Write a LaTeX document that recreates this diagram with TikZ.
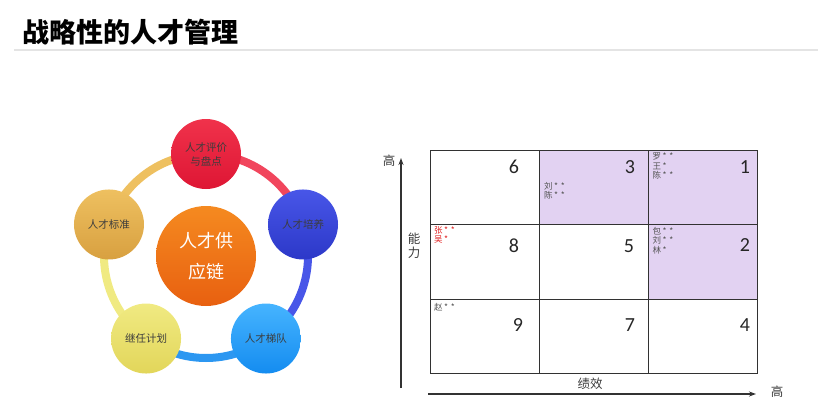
\documentclass[tikz,border=0pt]{standalone}
\usepackage{fontspec}
\setmainfont{Carlito}
\newfontfamily\cjk{Noto Sans CJK SC}
\usepackage{tikz}
\usetikzlibrary{arrows.meta,positioning,calc}
\usepackage{xcolor}
\definecolor{evalred}    {RGB}{240,  50,  75}
\definecolor{evalredd}   {RGB}{222,  22,  52}
\definecolor{trainblue}  {RGB}{ 72,  86, 232}
\definecolor{trainblued} {RGB}{ 44,  56, 200}
\definecolor{echelonblue}{RGB}{ 70, 180, 255}
\definecolor{echelond}   {RGB}{ 20, 140, 240}
\definecolor{succyellow} {RGB}{240, 234, 130}
\definecolor{succyellowd}{RGB}{226, 214,  90}
\definecolor{stdgold}    {RGB}{238, 192,  96}
\definecolor{stdgoldd}   {RGB}{216, 160,  64}
\definecolor{hubtop}     {RGB}{245, 138,  32}
\definecolor{hubbot}     {RGB}{232,  96,  16}
\definecolor{textgray}   {RGB}{ 60,  60,  60}
\definecolor{namegray}   {RGB}{ 85,  85,  85}
\definecolor{namered}    {RGB}{225,  35,  35}
\definecolor{gridgray}   {RGB}{ 50,  50,  50}
\definecolor{gridpurple} {RGB}{226, 210, 242}
\definecolor{rulegray}   {RGB}{228, 228, 228}

\begin{document}
\begin{tikzpicture}[x=1pt,y=1pt,
  every node/.style={font=\cjk},
  hub/.style={circle,minimum size=100pt,inner sep=0,align=center,text=white,
              top color=hubtop,bottom color=hubbot,
              font=\cjk\fontsize{18}{31}\selectfont},
  spoke/.style={circle,minimum size=70pt,inner sep=0,align=center,text=textgray,
                font=\cjk\fontsize{10.5}{14}\selectfont},
  ring/.style={line width=8pt},
  cell/.style={draw=gridgray,line width=0.9pt,minimum width=109pt,
               minimum height=74.3pt,inner sep=0,anchor=north west},
  hot/.style={cell,fill=gridpurple},
  num/.style={font=\fontsize{20}{24}\selectfont,text=black!85},
  who/.style={font=\cjk\fontsize{8.5}{9.3}\selectfont,align=left,anchor=north west,
              inner sep=0,text=namegray},
  axis/.style={-{Stealth[length=7pt,width=5pt]},line width=1.3pt,draw=gridgray},
  axlabel/.style={font=\cjk\fontsize{12.5}{14}\selectfont,text=textgray,inner sep=0},
]
\useasboundingbox (0,0) rectangle (831,-415);

%% ── Title ────────────────────────────────────────────────────────────────
\node[anchor=west,font=\cjk\bfseries\fontsize{27}{30}\selectfont] (title)
  at (19,-32) {战略性的人才管理};
\coordinate (ruleL) at (14,-50);
\coordinate (ruleR) at (818,-50);
\draw[rulegray,line width=2pt] (ruleL) -- (ruleR);

%% ── Talent supply chain ring ─────────────────────────────────────────────
\coordinate (mid) at (206,-256);
\path (mid) ++(90:102)   coordinate (pTop)
      (mid) ++(18:102)   coordinate (pRight)
      (mid) ++(-54:102)  coordinate (pBR)
      (mid) ++(-126:102) coordinate (pBL)
      (mid) ++(162:102)  coordinate (pLeft);

\draw[ring,evalred!90]     (pTop)   arc[start angle=90,end angle=18,radius=102];
\draw[ring,trainblue]      (pRight) arc[start angle=18,end angle=-54,radius=102];
\draw[ring,echelond!90]    (pBR)    arc[start angle=-54,end angle=-126,radius=102];
\draw[ring,succyellow]     (pBL)    arc[start angle=-126,end angle=-198,radius=102];
\draw[ring,stdgold]        (pLeft)  arc[start angle=162,end angle=90,radius=102];

\node[hub] (hub) at (mid) {人才供\\应链};

\node[spoke,top color=evalred,bottom color=evalredd] (eval) at (pTop)
  {人才评价\\与盘点};
\node[spoke,top color=trainblue,bottom color=trainblued] (train) at (pRight)
  {人才培养};
\node[spoke,top color=echelonblue,bottom color=echelond] (echelon) at (pBR)
  {人才梯队};
\node[spoke,top color=succyellow,bottom color=succyellowd] (succ) at (pBL)
  {继任计划};
\node[spoke,top color=stdgold,bottom color=stdgoldd] (std) at (pLeft)
  {人才标准};

%% ── Nine-box grid ────────────────────────────────────────────────────────
\node[cell] (box6) at (430,-150)   {};
\node[hot]  (box3) at (539,-150)   {};
\node[hot]  (box1) at (648,-150)   {};
\node[cell] (box8) at (430,-224.3) {};
\node[cell] (box5) at (539,-224.3) {};
\node[hot]  (box2) at (648,-224.3) {};
\node[cell] (box9) at (430,-298.6) {};
\node[cell] (box7) at (539,-298.6) {};
\node[cell] (box4) at (648,-298.6) {};

\node[num] at (514,-167) {6};
\node[num] at (630,-167) {3};
\node[num] at (745,-167) {1};
\node[num] at (514,-246) {8};
\node[num] at (629,-246) {5};
\node[num] at (745,-245) {2};
\node[num] at (518,-325) {9};
\node[num] at (630,-325) {7};
\node[num] at (745,-325) {4};

%% names
\node[who] (n3) at ([shift={(5,-32)}]box3.north west) {刘\,*\,\,*\\陈\,*\,\,*};
\node[who] (n1) at ([shift={(4.5,-3)}]box1.north west) {罗\,*\,\,*\\王\,*\\陈\,*\,\,*};
\node[who,text=namered] (n8) at ([shift={(4,-2)}]box8.north west) {张\,*\,\,*\\吴\,*};
\node[who] (n2) at ([shift={(4.5,-3)}]box2.north west) {包\,*\,\,*\\刘\,*\,\,*\\林\,*};
\node[who] (n9) at ([shift={(4,-4.5)}]box9.north west) {赵\,*\,\,*};

%% ── Axes ─────────────────────────────────────────────────────────────────
\coordinate (yfoot) at (401,-388);
\coordinate (ytip)  at (401,-158);
\coordinate (xfoot) at (428,-394);
\coordinate (xtip)  at (756,-394);
\draw[axis] (yfoot) -- (ytip);
\draw[axis] (xfoot) -- (xtip);

\node[axlabel] (yhigh) at (389,-161) {高};
\node[axlabel,align=center] (ylab) at (414,-246) {能\\力};
\node[axlabel] (xlab)  at (590,-384) {绩效};
\node[axlabel] (xhigh) at (777,-392) {高};

\end{tikzpicture}
\end{document}
